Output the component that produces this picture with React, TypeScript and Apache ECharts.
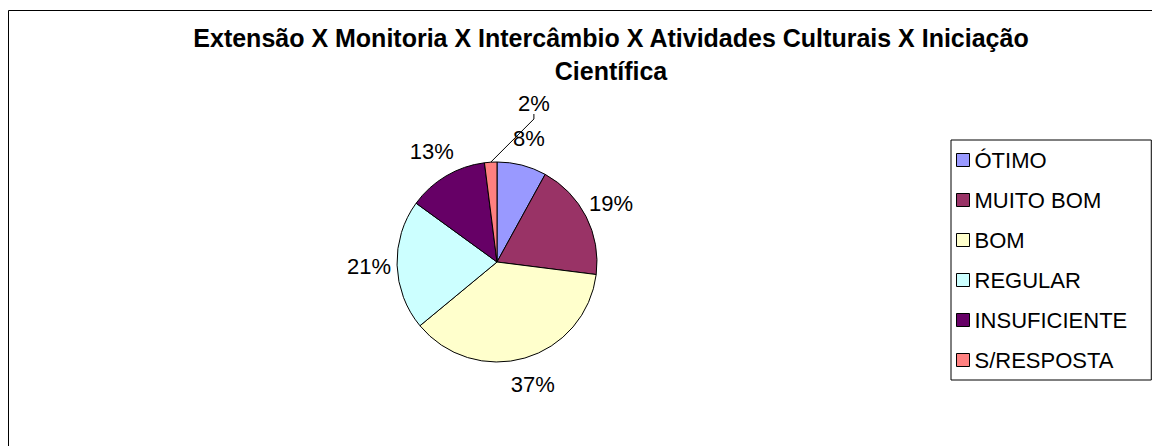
import React, { useEffect, useRef } from 'react';
import * as echarts from 'echarts';

const titleLines = ['Extensão X Monitoria X Intercâmbio X Atividades Culturais X Iniciação', 'Científica'];
const categories = ['ÓTIMO', 'MUITO BOM', 'BOM', 'REGULAR', 'INSUFICIENTE', 'S/RESPOSTA'];
const percentages = [8, 19, 37, 21, 13, 2];
const colors = ['#9999FF', '#993366', '#FFFFCC', '#CCFFFF', '#660066', '#FF8080'];
const leaderCategory = 'S/RESPOSTA';

export default function App() {
  const ref = useRef<HTMLDivElement>(null);
  useEffect(() => {
    const chart = echarts.init(ref.current!, null, { renderer: 'svg' });
    const font = "'Liberation Sans', Arial, sans-serif";
    const center = [497, 262];
    const fmt = (p: any) => `${Math.round(p.percent)}%`;
    const mainData = categories.map((name, i) => ({
      name,
      value: percentages[i],
      itemStyle: { color: colors[i] },
      label: { show: name === leaderCategory },
      labelLine: { show: name === leaderCategory },
    }));
    const labelData = categories.map((name, i) => ({
      name,
      value: percentages[i],
      label: { show: name !== leaderCategory },
    }));
    chart.setOption({
      animation: false,
      backgroundColor: '#ffffff',
      title: {
        text: titleLines.join('\n'),
        left: 606,
        top: 16,
        textAlign: 'center',
        textStyle: { fontFamily: font, fontWeight: 'bold', fontSize: 25, lineHeight: 33, color: '#000' },
      },
      legend: {
        orient: 'vertical',
        left: 951,
        top: 140,
        data: categories,
        icon: 'rect',
        itemWidth: 13,
        itemHeight: 13,
        itemGap: 18,
        padding: [9, 24, 9, 5],
        borderColor: '#000',
        borderWidth: 1,
        itemStyle: { borderColor: '#000', borderWidth: 1 },
        textStyle: { fontFamily: font, fontSize: 22, color: '#000', padding: [0, 0, 0, 0] },
        selectedMode: false,
      },
      graphic: [
        {
          type: 'rect',
          silent: true,
          z: -1,
          shape: { x: 8.5, y: 10.5, width: 1400, height: 700 },
          style: { fill: 'none', stroke: '#000', lineWidth: 1 },
        },
      ],
      series: [
        {
          type: 'pie',
          center,
          radius: 100,
          startAngle: 90,
          clockwise: true,
          avoidLabelOverlap: false,
          data: mainData,
          itemStyle: { borderColor: '#000', borderWidth: 1 },
          emphasis: { disabled: true },
          label: { position: 'outside', formatter: fmt, fontFamily: font, fontSize: 22, color: '#000' },
          labelLine: { length: 25, length2: 5, lineStyle: { color: '#000', width: 1 } },
          labelLayout: (p: any) =>
            p.dataIndex === categories.indexOf(leaderCategory)
              ? { x: 518, y: 103, align: 'left', verticalAlign: 'middle' }
              : {},
        },
        {
          type: 'pie',
          center,
          radius: [119, 131],
          startAngle: 90,
          clockwise: true,
          silent: true,
          data: labelData,
          itemStyle: { color: 'rgba(0,0,0,0)', borderWidth: 0 },
          emphasis: { disabled: true },
          label: { position: 'inside', formatter: fmt, fontFamily: font, fontSize: 22, color: '#000' },
          labelLine: { show: false },
        },
      ],
    });
    return () => chart.dispose();
  }, []);
  return <div ref={ref} style={{ position: 'absolute', left: 0, top: 0, width: 1152, height: 446 }} />;
}
